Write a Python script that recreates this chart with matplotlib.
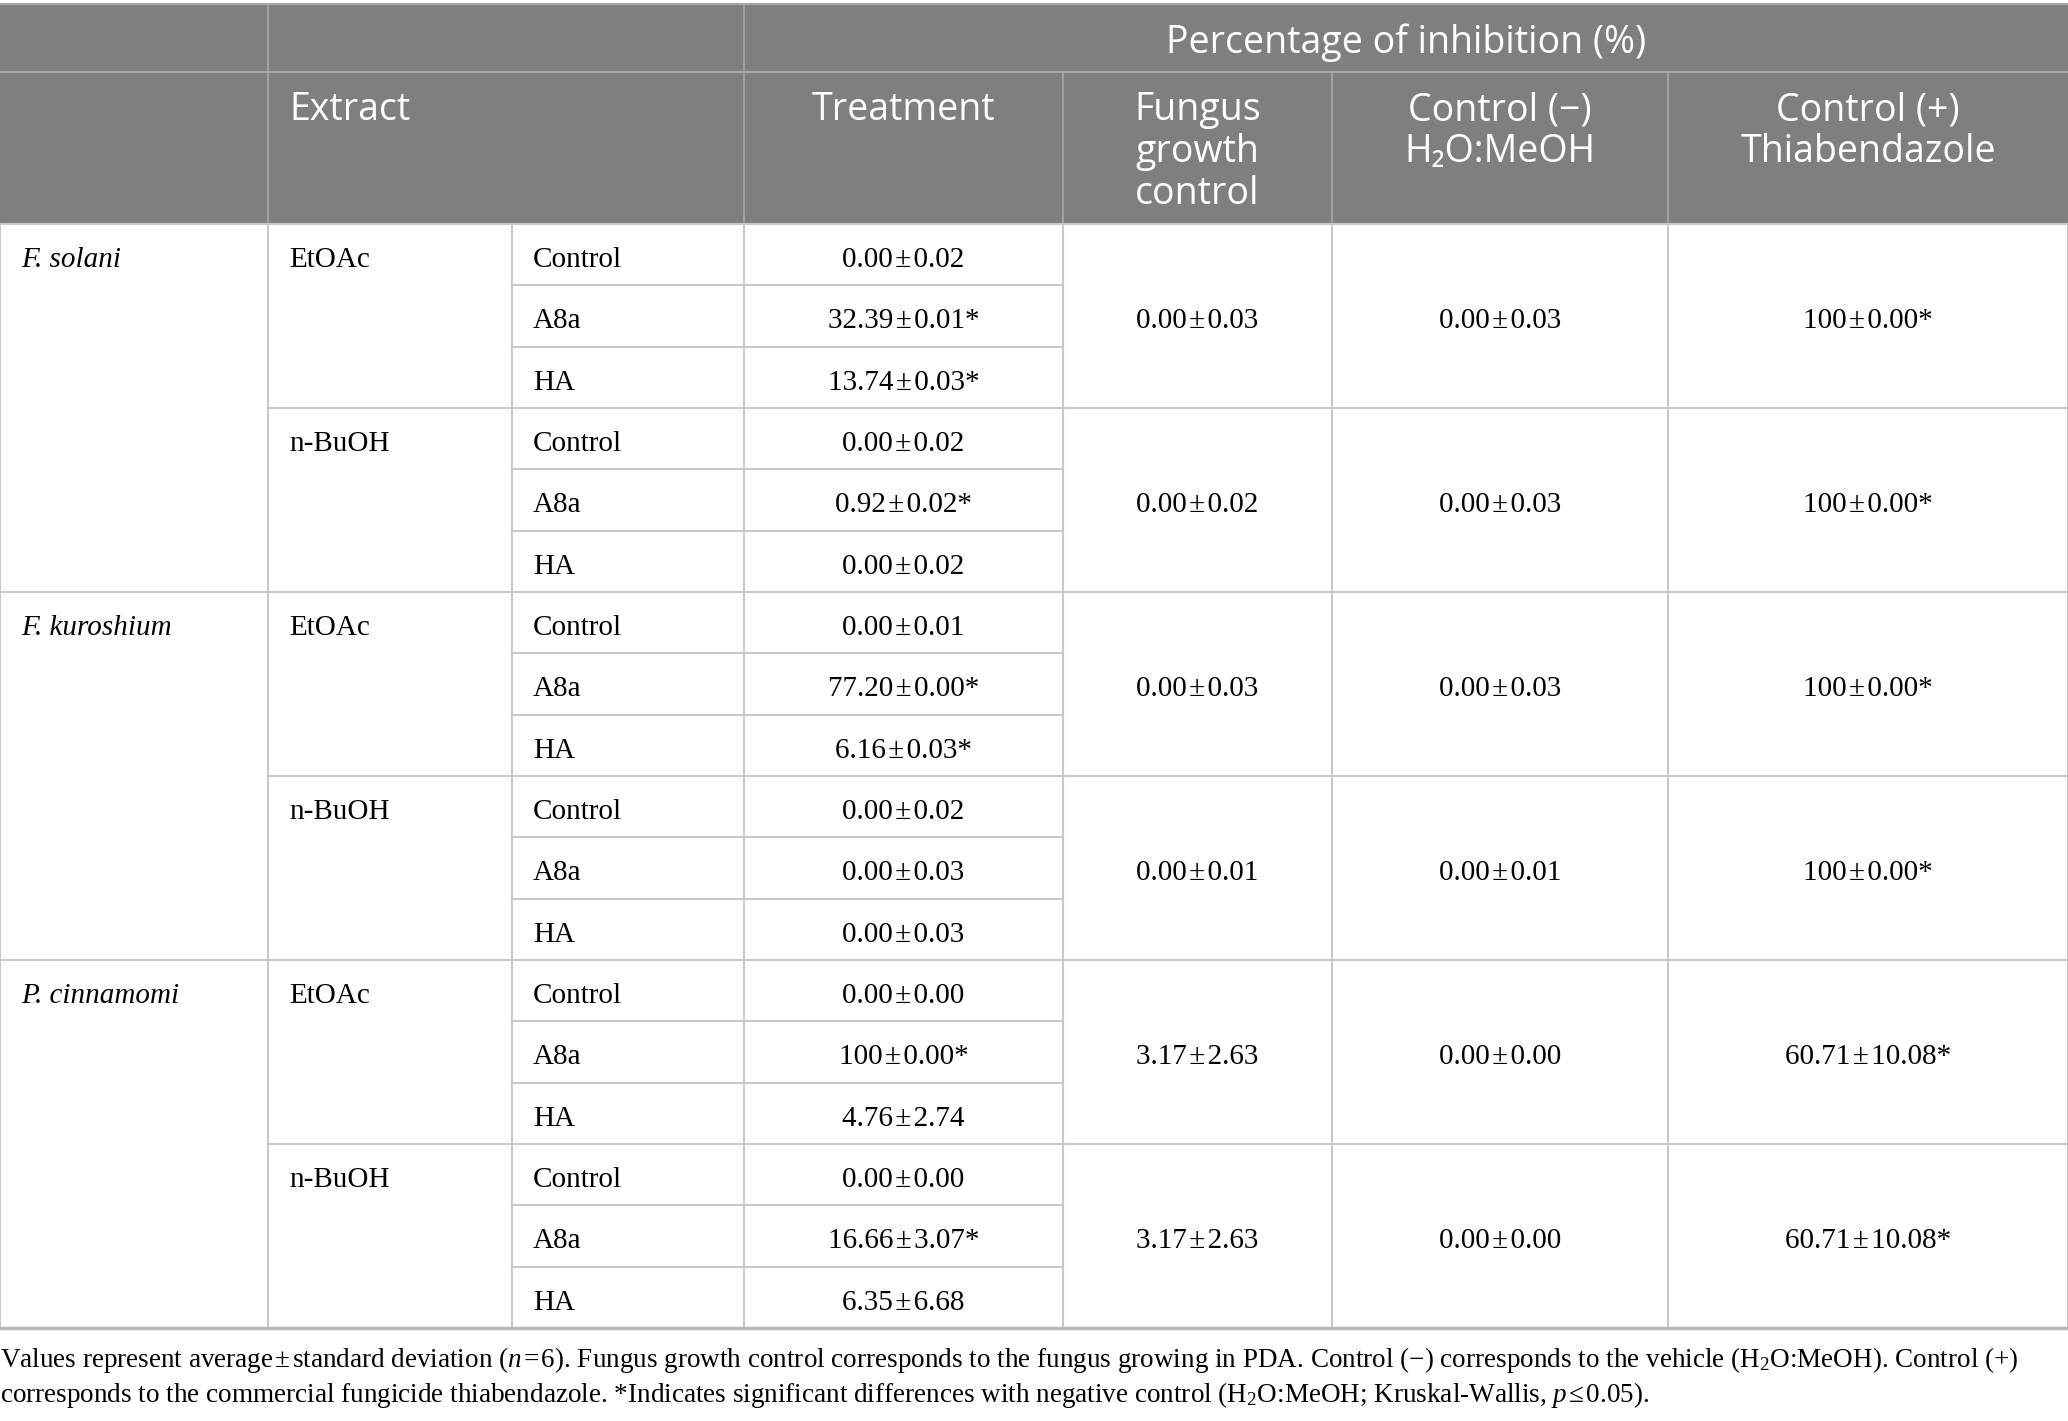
import matplotlib
matplotlib.use("Agg")
import matplotlib.pyplot as plt

plt.rcParams['mathtext.fontset'] = 'custom'
plt.rcParams['mathtext.rm'] = 'Liberation Serif'
plt.rcParams['mathtext.it'] = 'Liberation Serif:italic'

PM = '\u200a±\u200a'

### table data
species = ['F. solani', 'F. kuroshium', 'P. cinnamomi']
extracts = ['EtOAc', 'n-BuOH']
treatments = ['Control', 'A8a', 'HA']
treatment_vals = ['0.00±0.02', '32.39±0.01*', '13.74±0.03*',
                  '0.00±0.02', '0.92±0.02*', '0.00±0.02',
                  '0.00±0.01', '77.20±0.00*', '6.16±0.03*',
                  '0.00±0.02', '0.00±0.03', '0.00±0.03',
                  '0.00±0.00', '100±0.00*', '4.76±2.74',
                  '0.00±0.00', '16.66±3.07*', '6.35±6.68']
fungus_growth = ['0.00±0.03', '0.00±0.02', '0.00±0.03',
                 '0.00±0.01', '3.17±2.63', '3.17±2.63']
control_neg = ['0.00±0.03', '0.00±0.03', '0.00±0.03',
               '0.00±0.01', '0.00±0.00', '0.00±0.00']
control_pos = ['100±0.00*', '100±0.00*', '100±0.00*',
               '100±0.00*', '60.71±10.08*', '60.71±10.08*']

top_header = 'Percentage of inhibition (%)'
col_headers = [['Fungus', 'growth', 'control'],
               ['Control (\u2212)', 'H\u2082O:MeOH'],
               ['Control (+)', 'Thiabendazole']]
caption = ['Values represent average' + PM + 'standard deviation ($\\mathit{n}$\u200a=\u200a6). '
           'Fungus growth control corresponds to the fungus growing in PDA. Control (\u2212) '
           'corresponds to the vehicle (H$_2$O:MeOH). Control (+)',
           'corresponds to the commercial fungicide thiabendazole. *Indicates significant '
           'differences with negative control (H$_2$O:MeOH; Kruskal-Wallis, $\\mathit{p}$\u200a\u2264\u200a0.05).']

### layout (pixels)
W, H = 2068, 1421
cols = [0, 268, 512, 744, 1063, 1332, 1668, 2068]
y_top, y_mid, y_head = 4, 72, 224
row_h = (1328 - y_head) / 18.0
pad = 21
hdr_bg = '#7f807e'
hdr_line = '#a8a8a8'
grid = '#c8c8c8'
serif = ['Liberation Serif', 'DejaVu Serif']
sans = ['Open Sans', 'Noto Sans', 'DejaVu Sans']
body_fs = 21
hdr_fs = 27

fig = plt.figure(figsize=(W / 100, H / 100), dpi=100)
ax = fig.add_axes([0, 0, 1, 1])
ax.set_xlim(0, W)
ax.set_ylim(H, 0)
ax.axis('off')

# header background
ax.add_patch(plt.Rectangle((0, y_top), W, y_head - y_top, color=hdr_bg, lw=0, zorder=0))
ax.plot([0, W], [y_mid, y_mid], color=hdr_line, lw=1.5)
ax.plot([0, W], [y_top, y_top], color=hdr_line, lw=1.5)
for x in [cols[1], cols[3]]:
    ax.plot([x, x], [y_top, y_head], color=hdr_line, lw=1.2)
for x in cols[4:7]:
    ax.plot([x, x], [y_mid, y_head], color=hdr_line, lw=1.2)

ax.text((cols[3] + cols[7]) / 2, 53, top_header, color='white', fontsize=hdr_fs,
        family=sans, ha='center', va='baseline')
ax.text(cols[1] + pad, 120, 'Extract', color='white', fontsize=hdr_fs,
        family=sans, ha='left', va='baseline')
ax.text((cols[3] + cols[4]) / 2, 120, 'Treatment', color='white', fontsize=hdr_fs,
        family=sans, ha='center', va='baseline')
for i, lines in enumerate(col_headers):
    cx = (cols[4 + i] + cols[5 + i]) / 2
    for j, line in enumerate(lines):
        ax.text(cx, 120 + 42 * j, line, color='white', fontsize=hdr_fs,
                family=sans, ha='center', va='baseline')

# body
y_end = y_head + 18 * row_h
for x in cols:
    ax.plot([x, x], [y_head, y_end], color=grid, lw=1.5)

for s, sp in enumerate(species):
    ys = y_head + s * 6 * row_h
    ax.plot([0, W], [ys, ys], color=grid, lw=1.5)
    ax.text(pad, ys + 43, sp, fontsize=body_fs, family=serif, style='italic',
            ha='left', va='baseline')
    for e, ex in enumerate(extracts):
        g = s * 2 + e
        ye = ys + e * 3 * row_h
        ax.plot([cols[1], W], [ye, ye], color=grid, lw=1.5)
        ax.text(cols[1] + pad, ye + 43, ex, fontsize=body_fs, family=serif,
                ha='left', va='baseline')
        for t, tr in enumerate(treatments):
            yr = ye + t * row_h
            if t > 0:
                ax.plot([cols[2], cols[4]], [yr, yr], color=grid, lw=1.5)
            ax.text(cols[2] + pad, yr + 43, tr, fontsize=body_fs, family=serif,
                    ha='left', va='baseline')
            ax.text((cols[3] + cols[4]) / 2, yr + 43,
                    treatment_vals[g * 3 + t].replace('±', PM),
                    fontsize=body_fs, family=serif, ha='center', va='baseline')
        yc = ye + 1.5 * row_h + 12
        for k, vals in enumerate([fungus_growth, control_neg, control_pos]):
            ax.text((cols[4 + k] + cols[5 + k]) / 2, yc, vals[g].replace('±', PM),
                    fontsize=body_fs, family=serif, ha='center', va='baseline')

ax.plot([0, W], [y_end, y_end], color='#b8b8b8', lw=2.5)

for i, line in enumerate(caption):
    ax.text(0, 1367 + 35 * i, line, fontsize=19.5, family=serif, ha='left', va='baseline')

fig.savefig('out.png', dpi=100)
